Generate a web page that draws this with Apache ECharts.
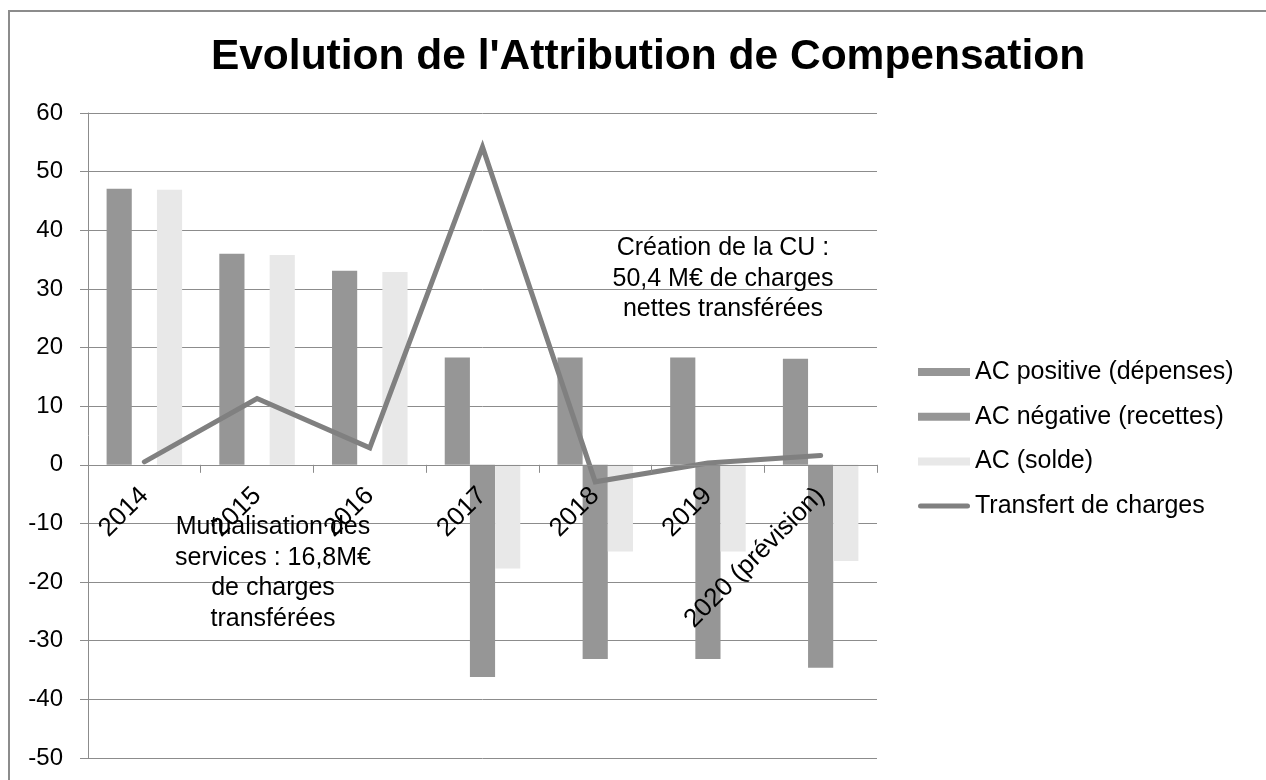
<!DOCTYPE html>
<html>
<head>
<meta charset="utf-8">
<title>Evolution de l'Attribution de Compensation</title>
<script src="https://cdn.jsdelivr.net/npm/echarts@6/dist/echarts.min.js"></script>
<style>
    html, body { margin: 0; padding: 0; background: #fff; }
    #main { width: 1266px; height: 780px; }
</style>
</head>
<body>
<div id="main"></div>
<script>
var years = ["2014", "2015", "2016", "2017", "2018", "2019", "2020 (prévision)"];
var acPositive = [47.1, 36.0, 33.1, 18.3, 18.3, 18.3, 18.1];   // dépenses
var acNegative = [0, 0, 0, -36.2, -33.1, -33.1, -34.6];        // recettes
var acSolde = [46.9, 35.8, 32.9, -17.7, -14.8, -14.8, -16.4];
var transfert = [0.5, 11.3, 2.9, 54.2, -2.9, 0.3, 1.6];
var yTicks = { min: -50, max: 60, step: 10 };

var font = "'Liberation Sans', Arial, sans-serif";
var gridColor = '#8c8c8c';

(function () {
    var myChart = echarts.init(document.getElementById('main'));
    var gridTop = 113, gridBottom = 22, gridHeight = 780 - gridTop - gridBottom;
    // distance from the bottom of the plot to the zero line, so the category axis sits on 0
    var zeroShift = gridHeight * (0 - yTicks.min) / (yTicks.max - yTicks.min);

    var option = {
        backgroundColor: '#fff',
        animation: false,
        title: {
            text: "Evolution de l'Attribution de Compensation",
            left: 643,
            textAlign: 'center',
            top: 31,
            textStyle: { fontFamily: font, fontSize: 42.5, fontWeight: 'bold', color: '#000' }
        },
        grid: {
            left: 88, right: 389, top: gridTop, bottom: gridBottom,
            containLabel: false,
            outerBoundsMode: 'none'
        },
        legend: {
            orient: 'vertical',
            left: 918,
            top: 359,
            padding: 0,
            itemWidth: 52,
            itemHeight: 8,
            itemGap: 18.7,
            symbolKeepAspect: true,
            textStyle: { fontFamily: font, fontSize: 25, lineHeight: 26, color: '#000' },
            data: [
                { name: 'AC positive (dépenses)', icon: 'rect' },
                { name: 'AC négative (recettes)', icon: 'rect' },
                { name: 'AC (solde)', icon: 'rect' },
                { name: 'Transfert de charges', icon: 'path://M2.5,0 L49.5,0 A2.5,2.5 0 0 1 49.5,5 L2.5,5 A2.5,2.5 0 0 1 2.5,0 Z' }
            ]
        },
        xAxis: {
            type: 'category',
            data: years,
            offset: -zeroShift,
            axisLine: { onZero: false, lineStyle: { color: gridColor, width: 1 } },
            axisTick: { show: true, length: 8, lineStyle: { color: gridColor } },
            axisLabel: {
                rotate: 45,
                margin: 27,
                interval: 0,
                fontFamily: font,
                fontSize: 26,
                color: '#000'
            },
            z: 8
        },
        yAxis: {
            type: 'value',
            min: yTicks.min,
            max: yTicks.max,
            interval: yTicks.step,
            axisLine: { show: true, lineStyle: { color: gridColor } },
            axisTick: { show: true, length: 8, lineStyle: { color: gridColor } },
            axisLabel: { margin: 25, fontFamily: font, fontSize: 24, color: '#000' },
            splitLine: { show: true, lineStyle: { color: gridColor, width: 1 } }
        },
        series: [
            {
                name: 'AC positive (dépenses)',
                type: 'bar',
                data: acPositive,
                barGap: '0%',
                barCategoryGap: '33%',
                itemStyle: { color: '#969696' }
            },
            {
                name: 'AC négative (recettes)',
                type: 'bar',
                data: acNegative,
                itemStyle: { color: '#969696' }
            },
            {
                name: 'AC (solde)',
                type: 'bar',
                data: acSolde,
                itemStyle: { color: '#e8e8e8' }
            },
            {
                name: 'Transfert de charges',
                type: 'line',
                data: transfert,
                symbol: 'none',
                z: 5,
                lineStyle: { color: '#808080', width: 5, cap: 'round', join: 'miter' },
                itemStyle: { color: '#808080' }
            }
        ],
        graphic: [
            {
                type: 'rect',
                shape: { x: 9, y: 11, width: 1400, height: 900 },
                style: { fill: 'none', stroke: '#8c8c8c', lineWidth: 2 },
                silent: true
            },
            {
                type: 'text',
                x: 723,
                y: 233,
                z: 10,
                style: {
                    text: 'Création de la CU :\n50,4 M€ de charges\nnettes transférées',
                    textAlign: 'center',
                    fontFamily: font,
                    fontSize: 25,
                    lineHeight: 30.5,
                    fill: '#000'
                }
            },
            {
                type: 'text',
                x: 273,
                y: 512,
                z: 10,
                style: {
                    text: 'Mutualisation des\nservices : 16,8M€\nde charges\ntransférées',
                    textAlign: 'center',
                    fontFamily: font,
                    fontSize: 25,
                    lineHeight: 30.5,
                    fill: '#000'
                }
            }
        ]
    };
    myChart.setOption(option);
    window.addEventListener("resize", function () {
        myChart.resize();
    });
})();
</script>
</body>
</html>
